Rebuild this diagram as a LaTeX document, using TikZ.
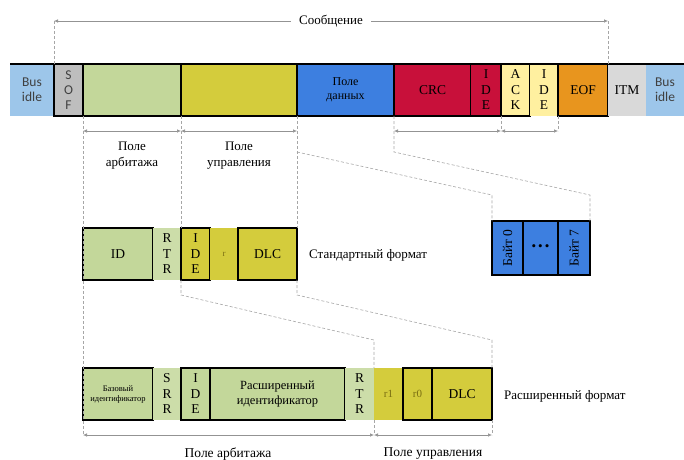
\documentclass[tikz,border=0pt]{standalone}
\usepackage{fontspec}
\setmainfont{Liberation Serif}
\newfontfamily\busfont{Carlito}
\usetikzlibrary{positioning,arrows.meta}

\definecolor{busblue}{HTML}{9DC6EA}
\definecolor{sofgray}{HTML}{BEBEBE}
\definecolor{arbgreen}{HTML}{C3D79A}
\definecolor{ctlyellow}{HTML}{D4CC3C}
\definecolor{datablue}{HTML}{3D7FE0}
\definecolor{crcred}{HTML}{C8103A}
\definecolor{ackyellow}{HTML}{FFF0A0}
\definecolor{eoforange}{HTML}{E8951E}
\definecolor{itmgray}{HTML}{D9D9D9}
\definecolor{olivetext}{HTML}{7A6E12}

\begin{document}
\begin{tikzpicture}[
  x=1pt, y=-1pt,
  cell/.style={anchor=north west, inner sep=0pt, outer sep=0pt, align=center, minimum height=52pt, font=\fontsize{13.5}{15.5}\selectfont},
  box/.style={cell, draw=black, line width=1.1pt},
  dim/.style={draw=gray!85, line width=0.6pt, {Latex[length=4pt,width=3.5pt]}-{Latex[length=4pt,width=3.5pt]}},
  guide/.style={draw=gray!70, line width=0.6pt, dash pattern=on 3pt off 2pt},
  lbl/.style={font=\fontsize{13}{16}\selectfont, align=center, inner sep=1pt},
  bus/.style={font=\busfont\fontsize{13.5}{15}\selectfont, text=black!75},
  small/.style={font=\fontsize{11}{12}\selectfont, text=olivetext}
]
\useasboundingbox (0,0) rectangle (684,459);

% frame
\node[cell, bus, fill=busblue, minimum width=44pt] (busL) at (10,64) {Bus\\idle};
\node[box, bus, fill=sofgray, minimum width=29pt, right=0pt of busL] (sof) {S\\O\\F};
\node[box, fill=arbgreen, minimum width=98pt, right=0pt of sof] (arb) {};
\node[box, fill=ctlyellow, minimum width=116pt, right=0pt of arb] (ctl) {};
\node[box, fill=datablue, minimum width=97pt, right=0pt of ctl, font=\fontsize{12}{14}\selectfont] (data) {Поле\\данных};
\node[box, fill=crcred, minimum width=77pt, right=0pt of data] (crc) {CRC};
\node[cell, fill=crcred, minimum width=30pt, right=0pt of crc] (ide1) {I\\D\\E};
\node[box, fill=ackyellow, minimum width=29pt, right=0pt of ide1] (ack) {A\\C\\K};
\node[cell, fill=ackyellow, minimum width=28pt, right=0pt of ack] (ide2) {I\\D\\E};
\node[box, fill=eoforange, minimum width=50pt, right=0pt of ide2] (eof) {EOF};
\node[cell, fill=itmgray, minimum width=38pt, right=0pt of eof] (itm) {ITM};
\node[cell, bus, fill=busblue, minimum width=38pt, right=0pt of itm] (busR) {Bus\\idle};
\draw[line width=1.1pt] (busL.north west) -- (busR.north east);
\draw[line width=1.1pt] (sof.south west) -- (ack.south east);

% message
\coordinate (msgL) at (sof.north west |- 0,21);
\coordinate (msgR) at (eof.north east |- 0,21);
\draw[dim] (msgL) -- (msgR) node[midway, fill=white, lbl, inner xsep=8pt] (msg) {Сообщение};
\draw[guide] (msgL) -- (sof.north west);
\draw[guide] (msgR) -- (eof.north east);

% fields under the frame
\draw[dim] (arb.south west |- 0,131) -- (arb.south east |- 0,131);
\draw[dim] (ctl.south west |- 0,131) -- (ctl.south east |- 0,131);
\draw[dim] (crc.south west |- 0,131) -- (ide1.south east |- 0,131);
\draw[dim] (ack.south west |- 0,131) -- (ide2.south east |- 0,131);
\draw[guide] (ide1.south east) -- (ide1.south east |- 0,131);
\draw[guide] (ide2.south east) -- (ide2.south east |- 0,131);
\node[lbl] (arblbl) at (arb.south |- 0,156) {Поле\\арбитажа};
\node[lbl] (ctllbl) at (ctl.south |- 0,156) {Поле\\управления};

% data bytes
\node[box, fill=datablue, minimum width=31pt, minimum height=54pt] (b0) at (492,221) {\rotatebox{90}{Байт 0}};
\node[box, fill=datablue, minimum width=35pt, minimum height=54pt, right=0pt of b0] (bdots) {{\fontsize{13}{13}\selectfont\textbullet\hspace{2pt}\textbullet\hspace{2pt}\textbullet}};
\node[box, fill=datablue, minimum width=32pt, minimum height=54pt, right=0pt of bdots] (b7) {\rotatebox{90}{Байт 7}};
\coordinate (dw) at (data.south west |- 0,152);
\coordinate (de) at (data.south east |- 0,152);
\draw[guide] (data.south east) -- (de) -- (b7.north east |- 0,195) -- (b7.north east);
\draw[guide] (dw) -- (b0.north west |- 0,195) -- (b0.north west);

% standard format
\node[box, fill=arbgreen, minimum width=70pt] (id) at (83,228) {ID};
\node[cell, fill=arbgreen!85!white, minimum width=28pt, right=0pt of id] (rtr) {R\\T\\R};
\node[box, fill=ctlyellow, minimum width=29pt, right=0pt of rtr] (ide) {I\\D\\E};
\node[cell, fill=ctlyellow, minimum width=28pt, right=0pt of ide, small, font=\fontsize{9}{10}\selectfont] (r) {r};
\node[box, fill=ctlyellow, minimum width=59pt, right=0pt of r] (dlc) {DLC};
\node[lbl, anchor=west] (stdlbl) at (308,255) {Стандартный формат};
\draw[guide] (ctl.south west) -- (ide.north west);
\draw[guide] (ctl.south east) -- (dlc.north east);

% extended format
\node[box, fill=arbgreen, minimum width=70pt, font=\fontsize{8.5}{10}\selectfont] (ebase) at (83,368) {Базовый\\идентификатор};
\node[cell, fill=arbgreen!85!white, minimum width=28pt, right=0pt of ebase] (srr) {S\\R\\R};
\node[box, fill=arbgreen, minimum width=29pt, right=0pt of srr] (eide) {I\\D\\E};
\node[box, fill=arbgreen, minimum width=135pt, right=0pt of eide, font=\fontsize{12.5}{15}\selectfont] (extid) {Расширенный\\идентификатор};
\node[cell, fill=arbgreen!85!white, minimum width=29pt, right=0pt of extid] (ertr) {R\\T\\R};
\node[cell, fill=ctlyellow, minimum width=29pt, right=0pt of ertr, small] (r1) {r1};
\node[box, fill=ctlyellow, minimum width=29pt, right=0pt of r1, small] (r0) {r0};
\node[box, fill=ctlyellow, minimum width=60pt, right=0pt of r0] (edlc) {DLC};
\node[lbl, anchor=west] (extlbl) at (503,396) {Расширенный формат};
\draw[guide] (ide.south west) -- ++(0,15) -- (r1.north west |- 0,340) -- (r1.north west);
\draw[guide] (dlc.south east) -- ++(0,15) -- (edlc.north east |- 0,340) -- (edlc.north east);
\draw[guide] (arb.south west) -- (ebase.south west |- 0,435);
\draw[guide] (ertr.south east) -- (ertr.south east |- 0,435);
\draw[guide] (edlc.south east) -- (edlc.south east |- 0,435);
\draw[dim] (ebase.south west |- 0,435) -- (ertr.south east |- 0,435);
\draw[dim] (r1.south west |- 0,435) -- (edlc.south east |- 0,435);
\node[lbl, font=\fontsize{13.5}{16}\selectfont] (earblbl) at (228,454) {Поле арбитажа};
\node[lbl, font=\fontsize{13.5}{16}\selectfont] (ectllbl) at (433,454) {Поле управления};
\end{tikzpicture}
\end{document}
